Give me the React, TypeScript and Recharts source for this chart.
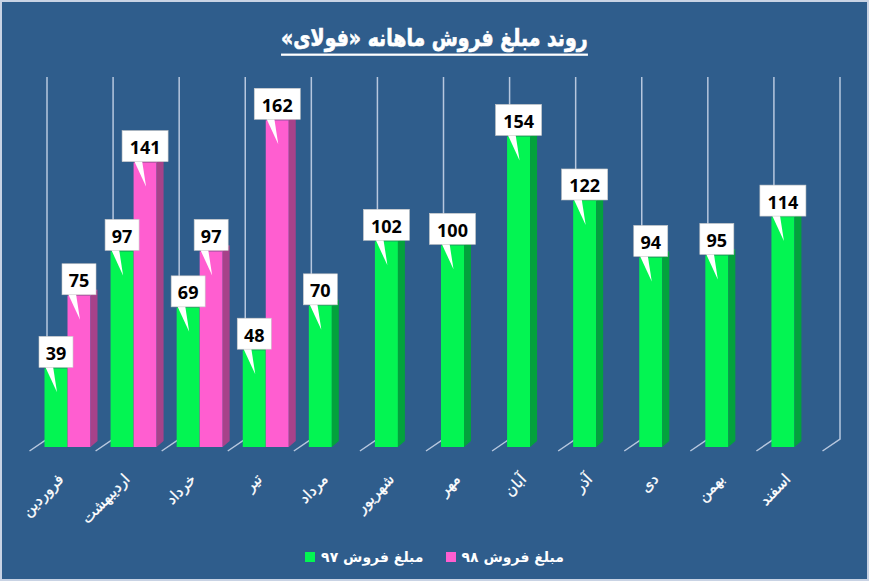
import React from 'react'
import { BarChart, Bar, XAxis, YAxis, CartesianGrid, LabelList } from 'recharts'

const months = ['فروردین', 'اردیبهشت', 'خرداد', 'تیر', 'مرداد', 'شهریور', 'مهر', 'آبان', 'آذر', 'دی', 'بهمن', 'اسفند']
const sales97 = [39, 97, 69, 48, 70, 102, 100, 154, 122, 94, 95, 114]
const sales98: (number | null)[] = [75, 141, 97, 162, null, null, null, null, null, null, null, null]
const seriesNames = ['مبلغ فروش ۹۷', 'مبلغ فروش ۹۸']
const title = 'روند مبلغ فروش ماهانه «فولای»'

const data = months.map((m, i) => ({ month: m, s97: sales97[i], s98: sales98[i] }))

const BG = '#2F5D8C'
const GREEN = { front: '#03F552', side: '#03A23C', top: '#06C647' }
const PINK = { front: '#FF5ED0', side: '#A7428A', top: '#D650AE' }
const DX = 7
const DY = 6

function Bar3D({ x, y, width, height, colors }: any) {
  if (!height || height <= 0) return null
  const r = x + width
  const b = y + height
  return (
    <g>
      <rect x={x} y={y} width={width} height={height} fill={colors.front} />
      <polygon points={`${r},${y} ${r + DX},${y - DY} ${r + DX},${b - DY} ${r},${b}`} fill={colors.side} />
      <polygon points={`${x},${y} ${x + DX},${y - DY} ${r + DX},${y - DY} ${r},${y}`} fill={colors.top} />
    </g>
  )
}

function Callout({ cx, top, value }: { cx: number; top: number; value: number }) {
  const w = String(value).length > 2 ? 46 : 34
  const h = 31
  const bx = cx - w / 2
  const by = top - 1 - h
  const bb = by + h
  return (
    <g>
      <polygon points={`${cx - 11},${bb - 1} ${cx - 3},${bb - 1} ${cx + 1},${bb + 25}`} fill="#fff" />
      <rect x={bx} y={by} width={w} height={h} fill="#fff" stroke="#c8c8c8" strokeWidth={0.6} />
      <text x={cx} y={by + h / 2 + 1} textAnchor="middle" dominantBaseline="central"
        fontFamily="Noto Sans" fontWeight={700} fontSize={18} fill="#000">
        {value}
      </text>
    </g>
  )
}

const gridLine = (p: any) => (
  <path key={`g-${p.index}`} d={`M${p.x1 + 12.5},${p.y1 - 7} V${p.y2 - 8} L${p.x1 - 5},${p.y2 + 4}`}
    stroke="#B7C7DE" strokeWidth={1.5} fill="none" />
)

const MonthTick = ({ x, y, payload }: any) => {
  const ax = x - 3
  const ay = y + 33
  return (
    <text x={ax} y={ay} transform={`rotate(-46 ${ax} ${ay})`} textAnchor="end"
      fill="#fff" fontFamily="DejaVu Sans" fontSize={15} stroke="#fff" strokeWidth={0.3}>
      {payload.value}
    </text>
  )
}

export default function App() {
  return (
    <div style={{
      position: 'absolute', left: 0, top: 0, width: 869, height: 581, background: BG,
      boxShadow: 'inset 0 0 0 2px #C9D3E4', overflow: 'hidden',
    }}>
      <div style={{ position: 'absolute', top: 24, left: 0, width: 869, textAlign: 'center', zIndex: 2 }}>
        <span style={{
          display: 'inline-block', color: '#fff', fontFamily: 'DejaVu Sans', fontWeight: 700,
          fontSize: 21, lineHeight: '28px', borderBottom: '2px solid #fff', direction: 'rtl',
          transform: 'scale(0.9, 1.12)', WebkitTextStroke: '0.6px #fff',
        }}>
          {title}
        </span>
      </div>

      <BarChart width={869} height={581} data={data} barCategoryGap={10} barGap={0}
        margin={{ top: 84, right: 41.5, bottom: 104, left: 34.5 }}>
        <CartesianGrid horizontal={false} vertical={gridLine}
          verticalCoordinatesGenerator={({ offset }: any) =>
            months.map((_, i) => offset.left + (i * offset.width) / months.length)
              .concat(offset.left + offset.width)} />
        <XAxis dataKey="month" axisLine={false} tickLine={false} tickSize={0} tickMargin={0}
          interval={0} height={30} tick={<MonthTick />} />
        <YAxis hide domain={[0, 180]} />
        <Bar dataKey="s97" name={seriesNames[0]} isAnimationActive={false}
          shape={(p: any) => <Bar3D x={p.x} y={p.y} width={p.width} height={p.height} colors={GREEN} />}>
          <LabelList dataKey="s97" content={(p: any) => {
            if (sales98[p.index] != null) return null
            return <Callout cx={p.x + p.width / 2} top={p.y} value={p.value} />
          }} />
        </Bar>
        <Bar dataKey="s98" name={seriesNames[1]} isAnimationActive={false}
          shape={(p: any) => p.value == null ? <g /> : <Bar3D x={p.x} y={p.y} width={p.width} height={p.height} colors={PINK} />}>
          <LabelList dataKey="s98" content={(p: any) => {
            if (p.value == null) return null
            const v97 = sales97[p.index]
            const bottom = p.y + p.height
            const greenTop = bottom - (v97 * p.height) / p.value
            return (
              <g>
                <Callout cx={p.x - p.width / 2} top={greenTop} value={v97} />
                <Callout cx={p.x + p.width / 2} top={p.y} value={p.value} />
              </g>
            )
          }} />
        </Bar>
      </BarChart>

      <div style={{
        position: 'absolute', top: 549, left: 0, width: 869, display: 'flex', justifyContent: 'center',
        gap: 22, color: '#fff', fontFamily: 'DejaVu Sans', fontWeight: 700, fontSize: 14,
      }}>
        {seriesNames.map((name, i) => (
          <div key={name} style={{ display: 'flex', alignItems: 'center', gap: 6 }}>
            <span style={{ width: 10, height: 10, background: i === 0 ? GREEN.front : PINK.front, display: 'inline-block' }} />
            <span style={{ direction: 'rtl' }}>{name}</span>
          </div>
        ))}
      </div>
    </div>
  )
}
